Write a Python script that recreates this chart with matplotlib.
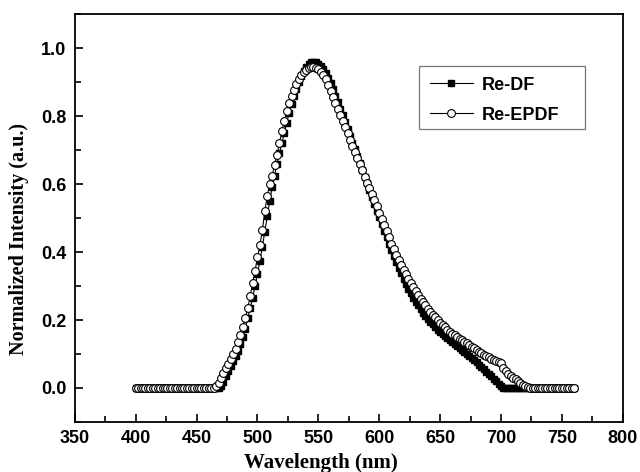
import matplotlib
matplotlib.use('Agg')
import matplotlib.pyplot as plt
import numpy as np
from matplotlib.patches import Rectangle
from matplotlib.ticker import MultipleLocator

# wavelength grid (nm), 2 nm steps
wavelength = np.arange(400, 762, 2)

# Re-DF (2 nm steps from 400 nm)
re_df = [
    0, 0, 0, 0, 0, 0, 0, 0, 0, 0,                      # 400-418
    0, 0, 0, 0, 0, 0, 0, 0, 0, 0,                      # 420-438
    0, 0, 0, 0, 0, 0, 0, 0, 0, 0,                      # 440-458
    0, 0, 0, 0, 0, 0.005, 0.018, 0.035, 0.05, 0.065,   # 460-478
    0.08, 0.095, 0.11, 0.13, 0.15, 0.175, 0.205, 0.235, 0.265, 0.30,   # 480-498
    0.335, 0.375, 0.415, 0.46, 0.505, 0.55, 0.59, 0.625, 0.66, 0.69,   # 500-518
    0.72, 0.75, 0.78, 0.81, 0.835, 0.86, 0.88, 0.90, 0.918, 0.932,     # 520-538
    0.945, 0.953, 0.958, 0.96, 0.958, 0.954, 0.947, 0.938, 0.927, 0.913,  # 540-558
    0.897, 0.879, 0.86, 0.841, 0.822, 0.802, 0.782, 0.762, 0.742, 0.722,  # 560-578
    0.702, 0.682, 0.662, 0.642, 0.622, 0.602, 0.582, 0.562, 0.542, 0.522,  # 580-598
    0.502, 0.482, 0.463, 0.444, 0.425, 0.406, 0.388, 0.37, 0.353, 0.337,  # 600-618
    0.321, 0.306, 0.292, 0.279, 0.266, 0.254, 0.243, 0.232, 0.222, 0.212,  # 620-638
    0.203, 0.195, 0.187, 0.179, 0.172, 0.165, 0.158, 0.152, 0.146, 0.14,   # 640-658
    0.134, 0.128, 0.123, 0.118, 0.112, 0.106, 0.10, 0.094, 0.088, 0.082,   # 660-678
    0.076, 0.069, 0.062, 0.055, 0.048, 0.041, 0.034, 0.027, 0.02, 0.012,   # 680-698
    0.005, 0, 0, 0, 0, 0, 0, 0, 0, 0,                  # 700-718
    0, 0, 0, 0, 0, 0, 0, 0, 0, 0,                      # 720-738
    0, 0, 0, 0, 0, 0, 0, 0, 0, 0,                      # 740-758
    0,                                                 # 760
]

# Re-EPDF
re_epdf = [
    0, 0, 0, 0, 0, 0, 0, 0, 0, 0,                      # 400-418
    0, 0, 0, 0, 0, 0, 0, 0, 0, 0,                      # 420-438
    0, 0, 0, 0, 0, 0, 0, 0, 0, 0,                      # 440-458
    0, 0, 0, 0.005, 0.015, 0.03, 0.045, 0.06, 0.072, 0.086,  # 460-478
    0.10, 0.115, 0.135, 0.155, 0.18, 0.205, 0.235, 0.27, 0.31, 0.345,  # 480-498
    0.385, 0.42, 0.465, 0.52, 0.565, 0.60, 0.625, 0.655, 0.685, 0.72,  # 500-518
    0.755, 0.785, 0.815, 0.84, 0.86, 0.877, 0.895, 0.91, 0.92, 0.93,   # 520-538
    0.937, 0.942, 0.945, 0.944, 0.942, 0.938, 0.93, 0.92, 0.908, 0.893,  # 540-558
    0.875, 0.857, 0.84, 0.822, 0.804, 0.786, 0.768, 0.75, 0.731, 0.713,  # 560-578
    0.694, 0.676, 0.658, 0.64, 0.622, 0.604, 0.587, 0.57, 0.552, 0.535,  # 580-598
    0.516, 0.498, 0.48, 0.462, 0.444, 0.425, 0.408, 0.392, 0.376, 0.362,  # 600-618
    0.348, 0.334, 0.321, 0.308, 0.296, 0.284, 0.273, 0.262, 0.252, 0.243,  # 620-638
    0.233, 0.224, 0.216, 0.208, 0.20, 0.192, 0.185, 0.178, 0.172, 0.166,  # 640-658
    0.16, 0.155, 0.15, 0.145, 0.14, 0.135, 0.131, 0.127, 0.122, 0.117,    # 660-678
    0.112, 0.107, 0.102, 0.098, 0.094, 0.09, 0.086, 0.082, 0.079, 0.077,  # 680-698
    0.074, 0.06, 0.05, 0.042, 0.036, 0.03, 0.026, 0.022, 0.016, 0.01,     # 700-718
    0.005, 0.002, 0, 0, 0, 0, 0, 0, 0, 0,              # 720-738
    0, 0, 0, 0, 0, 0, 0, 0, 0, 0,                      # 740-758
    0,                                                 # 760
]

fig = plt.figure(figsize=(6.4, 4.72), dpi=100)
ax = fig.add_axes([0.117, 0.106, 0.856, 0.864])

ax.plot(wavelength, re_df, '-', color='black', lw=0.8, marker='s', ms=4.4,
        mfc='black', mec='black', label='Re-DF')
ax.plot(wavelength, re_epdf, '-', color='black', lw=0.8, marker='o', ms=5.6,
        mfc='white', mec='black', mew=0.8, label='Re-EPDF')

ax.set_xlim(350, 800)
ax.set_ylim(-0.1, 1.1)
ax.xaxis.set_major_locator(MultipleLocator(50))
ax.xaxis.set_minor_locator(MultipleLocator(25))
ax.yaxis.set_major_locator(MultipleLocator(0.2))
ax.yaxis.set_minor_locator(MultipleLocator(0.1))
ax.set_yticks([0.0, 0.2, 0.4, 0.6, 0.8, 1.0])
ax.tick_params(which='both', direction='in', top=False, right=False, width=1.2)
ax.tick_params(which='major', length=6, pad=6)
ax.tick_params(which='minor', length=4)
for lab in ax.get_xticklabels() + ax.get_yticklabels():
    lab.set_fontfamily('Liberation Sans')
    lab.set_fontweight('bold')
    lab.set_fontsize(13)
for sp in ax.spines.values():
    sp.set_linewidth(1.3)

ax.set_xlabel('Wavelength (nm)', fontfamily='Liberation Serif', fontweight='bold',
              fontsize=15)
ax.set_ylabel('Normalized Intensity (a.u.)', fontfamily='Liberation Serif',
              fontweight='bold', fontsize=14.5)
ax.xaxis.set_label_coords(0.449, -0.077)
ax.yaxis.set_label_coords(-0.084, 0.449)

# legend without its own frame; the box is a bit wider than the entries
ax.legend(loc='upper left', bbox_to_anchor=(0.628, 0.873), borderaxespad=0,
          frameon=False, numpoints=1, handlelength=2.4, handletextpad=0.5,
          borderpad=0.6, labelspacing=0.72,
          prop={'family': 'Liberation Sans', 'weight': 'bold', 'size': 13})
ax.add_patch(Rectangle((0.628, 0.718), 0.304, 0.155, transform=ax.transAxes,
                       fill=False, edgecolor='#777777', lw=0.9, zorder=5))

fig.savefig('out.png', dpi=100)
